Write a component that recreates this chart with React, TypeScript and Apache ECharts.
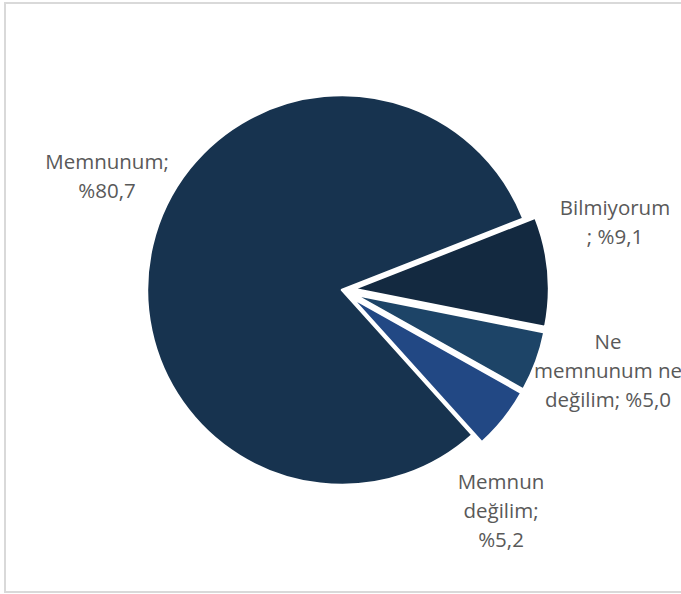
import React, { useEffect, useRef } from "react";
import * as echarts from "echarts";

const categories = ["Memnunum", "Bilmiyorum", "Ne memnunum ne değilim", "Memnun değilim"];
const values = [80.7, 9.1, 5.0, 5.2];
// how Excel wrapped each data label (name part, separator before the value)
const labelNames = ["Memnunum;", "Bilmiyorum\n;", "Ne\nmemnunum ne\ndeğilim;", "Memnun\ndeğilim;"];
const labelSeps = ["\n", " ", " ", "\n"];
const exploded = [false, true, true, true];

const colors = ["#17334f", "#132940", "#1d4467", "#224884"];
const labelPos: [number, number][] = [
  [107, 175],
  [615, 221],
  [608, 370],
  [501, 510],
];

export default function App() {
  const ref = useRef<HTMLDivElement>(null);
  useEffect(() => {
    if (!ref.current) return;
    const chart = echarts.init(ref.current, undefined, { renderer: "svg" });
    const common = {
      type: "pie",
      center: [342, 290],
      radius: 195,
      startAngle: 312,
      clockwise: true,
      emphasis: { disabled: true },
    };
    chart.setOption({
      animation: false,
      backgroundColor: "#ffffff",
      graphic: [
        {
          type: "rect",
          shape: { x: 5, y: 3, width: 700, height: 589 },
          style: { fill: "none", stroke: "#d9d9d9", lineWidth: 2 },
          silent: true,
        },
      ],
      series: [
        {
          ...common,
          selectedMode: "multiple",
          selectedOffset: 12,
          itemStyle: { borderColor: "#ffffff", borderWidth: 2.5 },
          label: { show: false },
          labelLine: { show: false },
          data: categories.map((name, i) => ({
            name,
            value: values[i],
            selected: exploded[i],
            itemStyle: { color: colors[i] },
            select: { itemStyle: { color: colors[i] } },
          })),
        },
        {
          ...common,
          silent: true,
          z: 3,
          itemStyle: { color: "rgba(0,0,0,0)", borderWidth: 0 },
          labelLine: { show: false },
          label: {
            show: true,
            position: "outside",
            fontFamily: "Open Sans",
            fontSize: 20.5,
            lineHeight: 29,
            color: "#595959",
            align: "center",
            overflow: "none",
            width: 300,
            formatter: (p: any) =>
              labelNames[p.dataIndex] +
              labelSeps[p.dataIndex] +
              "%" +
              values[p.dataIndex].toFixed(1).replace(".", ","),
          },
          labelLayout: (p: any) => ({
            x: labelPos[p.dataIndex][0],
            y: labelPos[p.dataIndex][1],
            align: "center",
            verticalAlign: "middle",
          }),
          data: categories.map((name, i) => ({ name, value: values[i] })),
        },
      ],
    });
    return () => chart.dispose();
  }, []);
  return (
    <div
      ref={ref}
      style={{ position: "fixed", left: 0, top: 0, width: 681, height: 594 }}
    />
  );
}
